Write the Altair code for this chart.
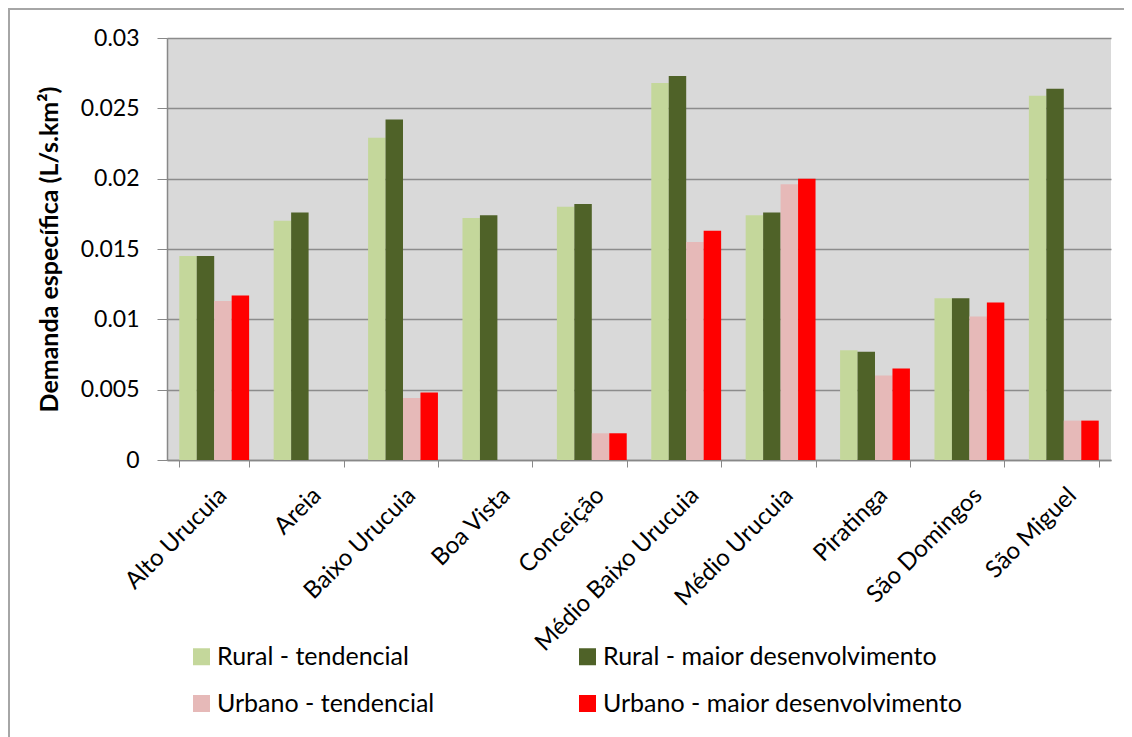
import altair as alt
import pandas as pd

regions = ["Alto Urucuia", "Areia", "Baixo Urucuia", "Boa Vista", "Conceição",
           "Médio Baixo Urucuia", "Médio Urucuia", "Piratinga", "São Domingos", "São Miguel"]
series = ["Rural - tendencial", "Rural - maior desenvolvimento",
          "Urbano - tendencial", "Urbano - maior desenvolvimento"]
rural_tend = [0.0145, 0.0170, 0.0229, 0.0172, 0.0180, 0.0268, 0.0174, 0.0078, 0.0115, 0.0259]
rural_maior = [0.0145, 0.0176, 0.0242, 0.0174, 0.0182, 0.0273, 0.0176, 0.0077, 0.0115, 0.0264]
urb_tend = [0.0113, 0.0, 0.0044, 0.0, 0.0019, 0.0155, 0.0196, 0.0060, 0.0102, 0.0028]
urb_maior = [0.0117, 0.0, 0.0048, 0.0, 0.0019, 0.0163, 0.0200, 0.0065, 0.0112, 0.0028]
colors = ["#C4D79B", "#4F6228", "#E6B9B8", "#FF0000"]

rows = []
for s, vals in zip(series, [rural_tend, rural_maior, urb_tend, urb_maior]):
    for r, v in zip(regions, vals):
        rows.append({"Região": r, "Série": s, "Valor": v})
df = pd.DataFrame(rows)

FONT = "Lato"

bars = alt.Chart(df).mark_bar().encode(
    x=alt.X("Região:N", sort=regions, title=None,
            scale=alt.Scale(paddingInner=0.26, paddingOuter=0.13),
            axis=alt.Axis(labelAngle=-45, labelAlign="right", labelBaseline="top",
                          labelFontSize=24, labelFont=FONT, labelColor="#000000",
                          tickBand="extent", tickColor="#888888", tickSize=7,
                          domainColor="#888888", domainWidth=1.5, labelPadding=16,
                          labelLimit=400)),
    xOffset=alt.XOffset("Série:N", sort=series),
    y=alt.Y("Valor:Q", title="Demanda específica (L/s.km²)",
            scale=alt.Scale(domain=[0, 0.03], nice=False),
            axis=alt.Axis(values=[0, 0.005, 0.01, 0.015, 0.02, 0.025, 0.03], format="~g",
                          labelFontSize=23, labelFont=FONT, labelColor="#000000",
                          titleFontSize=25, titleFont=FONT, titleFontWeight="bold",
                          titleColor="#000000", titlePadding=18,
                          gridColor="#8C8C8C", gridWidth=1.5, tickColor="#888888",
                          tickSize=10, domainColor="#888888", domainWidth=1.5,
                          labelPadding=18)),
    color=alt.Color("Série:N", sort=series,
                    scale=alt.Scale(domain=series, range=colors),
                    legend=alt.Legend(title=None, orient="none", legendX=22, legendY=606,
                                      columns=2, columnPadding=140, rowPadding=21,
                                      symbolType="square", symbolSize=289,
                                      symbolStrokeWidth=0, labelFontSize=25,
                                      labelFont=FONT, labelColor="#000000",
                                      labelOffset=3,
                                      labelLimit=500, direction="horizontal")),
)

# outer chart frame (left and top edges)
frame_src = alt.Data(values=[{"k": 1}])
frame_left = alt.Chart(frame_src).mark_rule(color="#A6A6A6", strokeWidth=2).encode(
    x=alt.value(-158), y=alt.value(-30), y2=alt.value(760)
)
frame_top = alt.Chart(frame_src).mark_rule(color="#A6A6A6", strokeWidth=2).encode(
    x=alt.value(-158), x2=alt.value(958), y=alt.value(-29)
)

chart = alt.layer(bars, frame_left, frame_top).properties(
    width=944, height=422,
    autosize=alt.AutoSizeParams(type="none"),
    padding={"left": 159, "top": 30, "right": 13, "bottom": 280},
).configure_view(
    fill="#D9D9D9", stroke=None
)

chart.save("out.html", embed_options={"renderer": "svg", "actions": False})
